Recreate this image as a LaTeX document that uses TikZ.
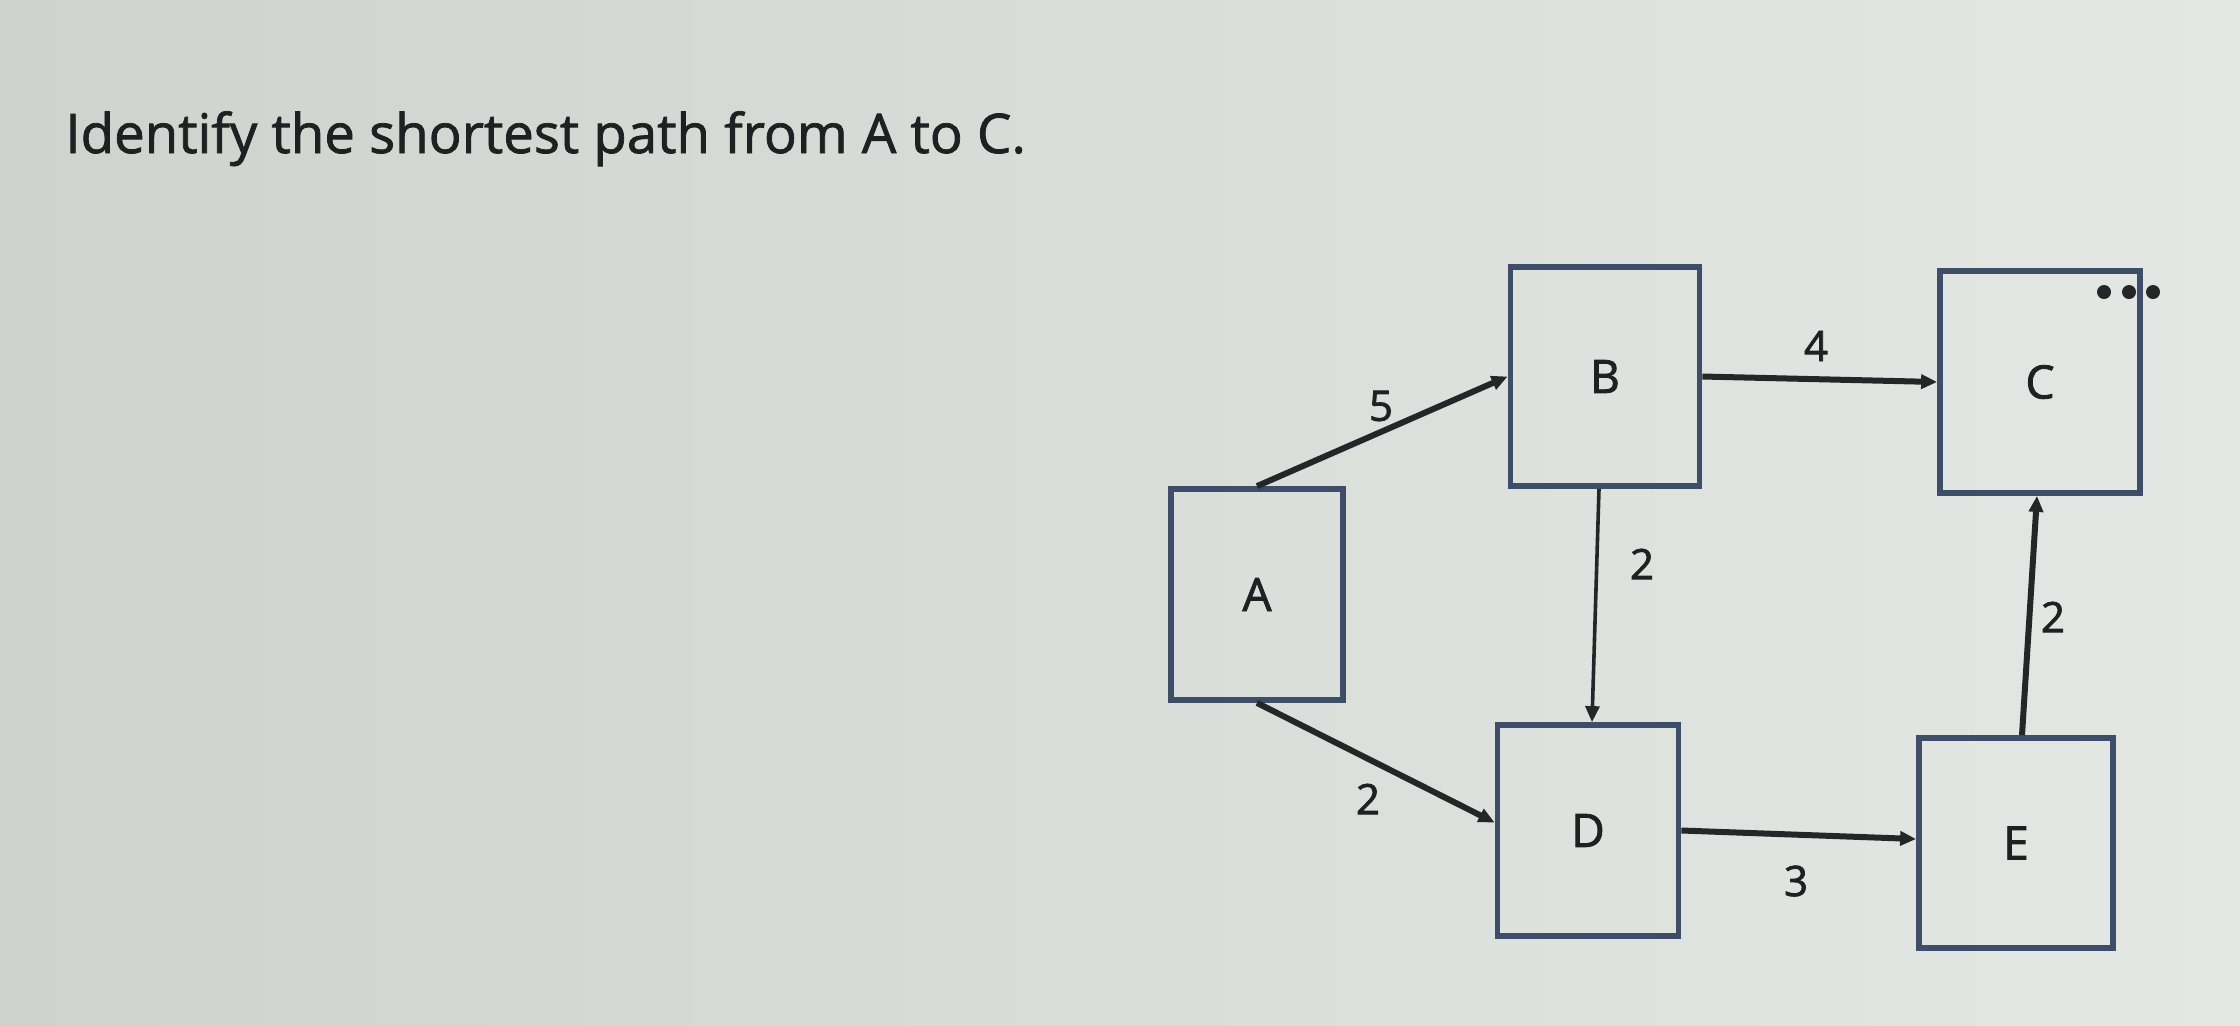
\documentclass[tikz,border=0pt]{standalone}
\usepackage{fontspec}
\setmainfont{Open Sans}
\newfontfamily\semibfont{Open Sans}[FakeBold=1.4]
\newfontfamily\labelfont{Open Sans}[FakeBold=1.8]
\usetikzlibrary{arrows.meta}
\definecolor{bgleft}{RGB}{206,211,206}
\definecolor{bgright}{RGB}{228,232,228}
\definecolor{boxline}{RGB}{62,78,104}
\definecolor{inkline}{RGB}{36,38,40}
\definecolor{inktext}{RGB}{30,32,34}
\tikzset{
  box/.style={draw=boxline, line width=2.9pt, fill=none, inner sep=0pt, text=inktext,
              font=\labelfont\fontsize{23}{23}\selectfont},
  edge/.style={draw=inkline, line width=3pt, -{Triangle[length=8pt,width=7pt]}},
  thinedge/.style={edge, line width=1.8pt},
  lbl/.style={inner sep=0pt, text=inktext, font=\labelfont\fontsize{21}{21}\selectfont},
  dotmark/.style={circle, fill=inkline, draw=none, minimum size=7pt, inner sep=0pt},
  title/.style={inner sep=0pt, anchor=base west, text=inktext, font=\semibfont\fontsize{27.3}{27.3}\selectfont}
}
\begin{document}
\begin{tikzpicture}[x=0.5pt,y=-0.5pt]
  \path[use as bounding box, left color=bgleft, right color=bgright] (0,0) rectangle (2240,1025);

  \node[title] (q) at (65,153) {Identify the shortest path from A to C.};

  \node[box, minimum width=86pt, minimum height=105.5pt] (A) at (1257,594.5) {A};
  \node[box, minimum width=94.5pt, minimum height=109.5pt] (B) at (1605,376.5) {B};
  \node[box, minimum width=100pt, minimum height=111pt] (C) at (2040,382) {C};
  \node[box, minimum width=90.5pt, minimum height=105.5pt] (D) at (1588,830.5) {D};
  \node[box, minimum width=97pt, minimum height=105pt] (E) at (2016,843) {E};

  \draw[edge] (A.north) -- (B.west);
  \draw[edge] (B.east) -- (C.west);
  \draw[thinedge] ([xshift=-3pt]B.south) -- ([xshift=2pt]D.north);
  \draw[edge] (A.south) -- ([yshift=4pt]D.west);
  \draw[edge] (D.east) -- ([yshift=2pt]E.west);
  \draw[edge] ([xshift=3pt]E.north) -- ([xshift=-1.5pt]C.south);

  \node[lbl] (l5) at (1381,406) {5};
  \node[lbl] (l4) at (1816,346) {4};
  \node[lbl] (l2a) at (1642,564) {2};
  \node[lbl] (l2b) at (1368,799) {2};
  \node[lbl] (l3) at (1796,881) {3};
  \node[lbl] (l2c) at (2053,617) {2};

  \node[dotmark] (d1) at (2104,292) {};
  \node[dotmark] (d2) at (2129,292) {};
  \node[dotmark] (d3) at (2153,292) {};
\end{tikzpicture}
\end{document}
